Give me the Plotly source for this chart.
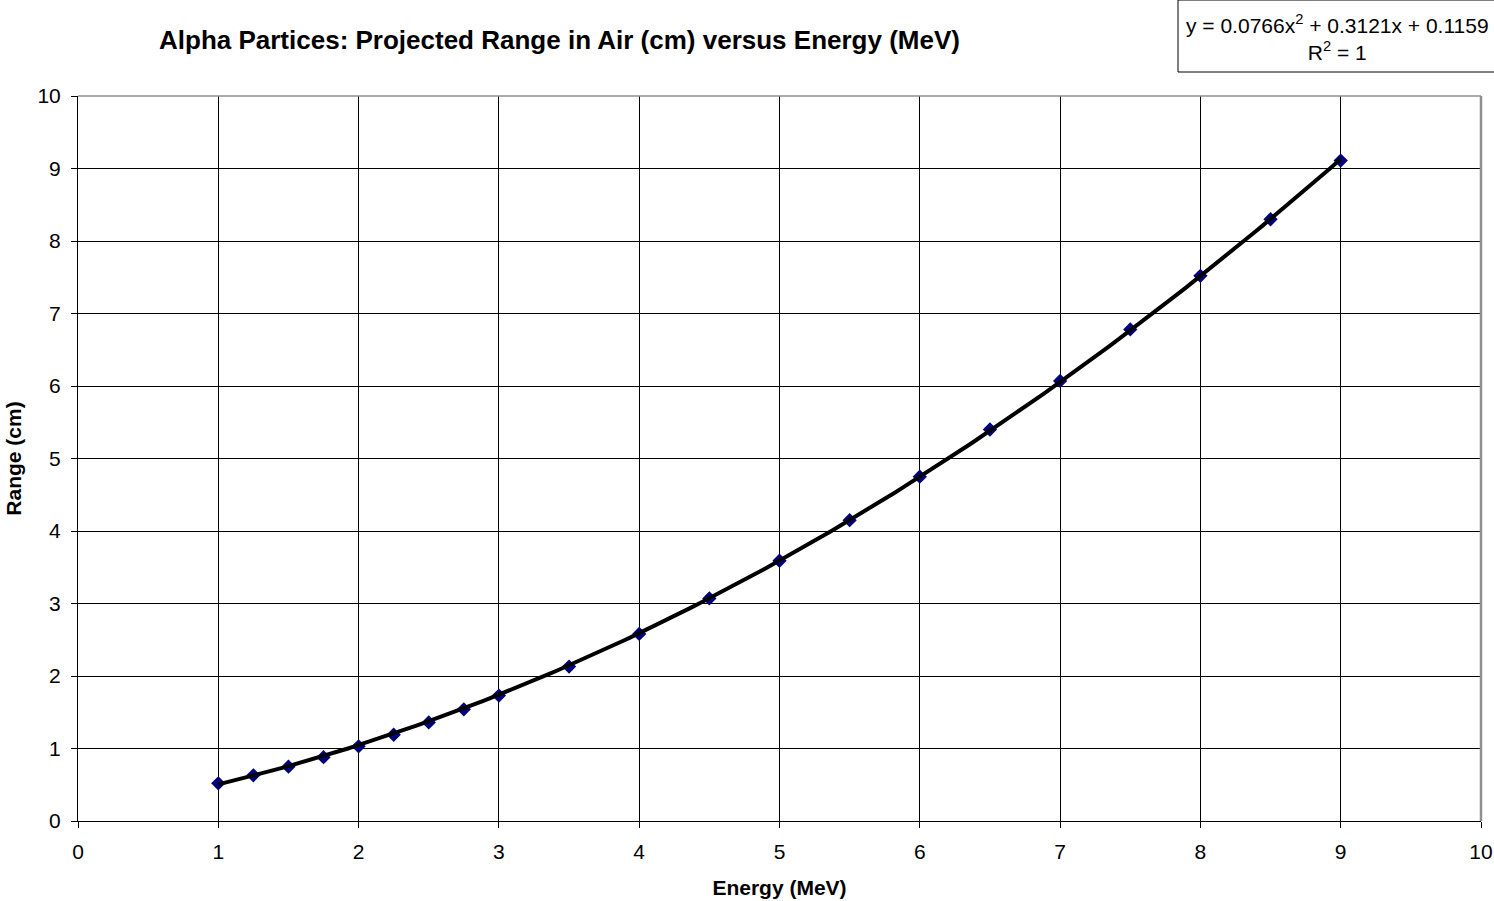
import numpy as np
import plotly.graph_objects as go

energy = [1, 1.25, 1.5, 1.75, 2, 2.25, 2.5, 2.75, 3, 3.5, 4, 4.5, 5, 5.5, 6, 6.5, 7, 7.5, 8, 8.5, 9]
range_cm = [0.52, 0.63, 0.75, 0.88, 1.03, 1.19, 1.36, 1.54, 1.73, 2.13, 2.58, 3.07, 3.59, 4.15, 4.75, 5.40, 6.07, 6.78, 7.52, 8.30, 9.11]
fit_coeffs = [0.0766, 0.3121, 0.1159]
x_ticks = list(range(0, 11))
y_ticks = list(range(0, 11))

W, H = 1494, 901
L, R, T, B = 78, 13, 96, 80
pw, ph = W - L - R, H - T - B

def px(x):
    return (x - L) / pw

def py(y):
    return (H - B - y) / ph

xf = np.linspace(min(energy), max(energy), 200)
yf = np.polyval(fit_coeffs, xf)

fig = go.Figure()
fig.add_trace(go.Scatter(x=energy, y=range_cm, mode="markers",
                         marker=dict(symbol="diamond", size=11, color="#000080"),
                         showlegend=False, hoverinfo="x+y"))
fig.add_trace(go.Scatter(x=xf, y=yf, mode="lines",
                         line=dict(color="black", width=4),
                         showlegend=False, hoverinfo="skip"))

font = dict(family="Liberation Sans, Arial, sans-serif", color="black")

fig.update_layout(
    width=W, height=H,
    margin=dict(l=L, r=R, t=T, b=B),
    paper_bgcolor="white", plot_bgcolor="white",
    font=dict(size=21, **font),
    xaxis=dict(range=[0, 10], tickvals=x_ticks, ticks="outside", ticklen=6, tickcolor="black",
               showgrid=True, gridcolor="black", gridwidth=1, zeroline=False, automargin=False,
               showline=True, linecolor="black", linewidth=1, ticklabelstandoff=6,
               title=dict(text="<b>Energy (MeV)</b>", font=dict(size=21, **font), standoff=18),
               tickfont=dict(size=21, **font)),
    yaxis=dict(range=[0, 10], tickvals=y_ticks, ticks="outside", ticklen=6, tickcolor="black",
               showgrid=True, gridcolor="black", gridwidth=1, zeroline=False, automargin=False,
               showline=True, linecolor="black", linewidth=1, ticklabelstandoff=6,
               title=dict(text="<b>Range (cm)</b>", font=dict(size=21, **font), standoff=10),
               tickfont=dict(size=21, **font)),
)

# gray top and right border of plot area
fig.add_shape(type="line", xref="paper", yref="paper", x0=0, x1=1, y0=1, y1=1,
              line=dict(color="#909090", width=1.5))
fig.add_shape(type="line", xref="paper", yref="paper", x0=1, x1=1, y0=0, y1=1,
              line=dict(color="#909090", width=2.5))

# title
fig.add_annotation(xref="paper", yref="paper", x=px(559), y=py(40), xanchor="center", yanchor="middle",
                   text="<b>Alpha Partices: Projected Range in Air (cm) versus Energy (MeV)</b>",
                   showarrow=False, font=dict(size=26, **font))

# equation box
fig.add_shape(type="rect", xref="paper", yref="paper", x0=px(1178), x1=px(1500), y0=py(0), y1=py(72),
              line=dict(color="black", width=1), fillcolor="white")
fig.add_annotation(xref="paper", yref="paper", x=px(1337), y=py(38), xanchor="center", yanchor="middle",
                   text="y = 0.0766x<sup>2</sup> + 0.3121x + 0.1159<br>R<sup>2</sup> = 1",
                   showarrow=False, align="center", font=dict(size=21, **font))

fig.write_html("out.html")
